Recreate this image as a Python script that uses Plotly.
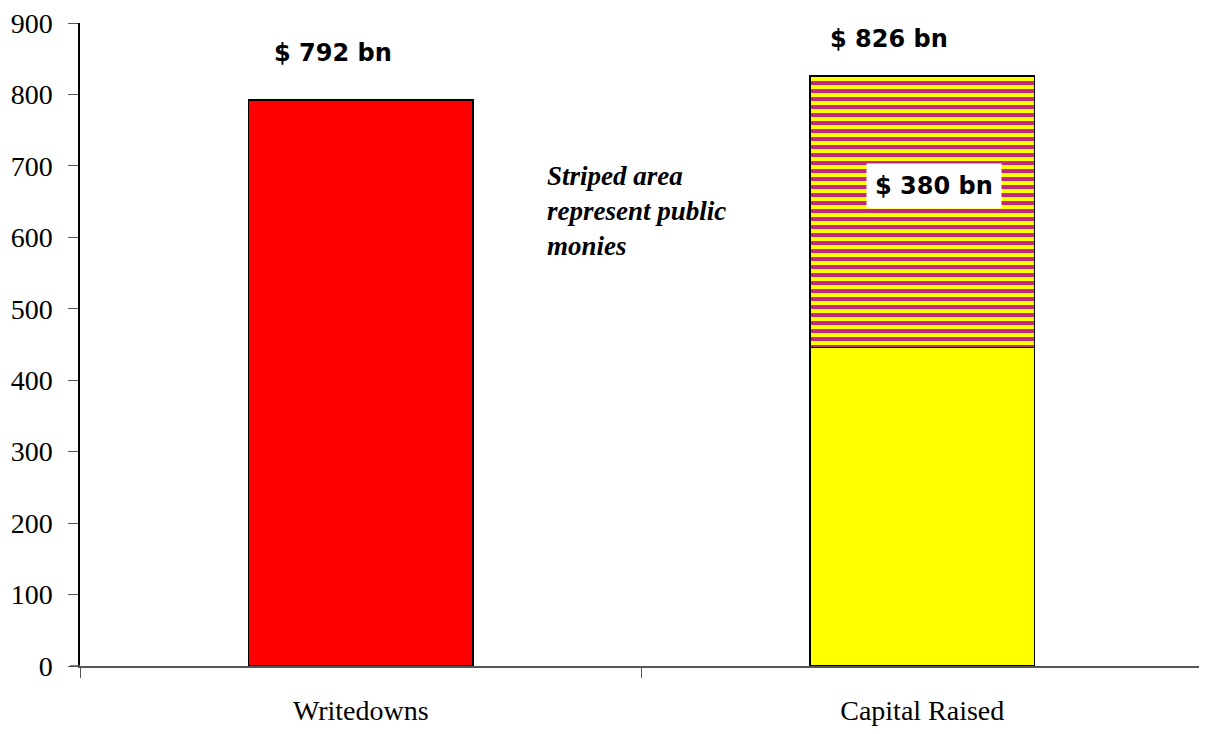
import plotly.graph_objects as go

categories = ["Writedowns", "Capital Raised"]
writedowns = [792, None]
private_capital = [None, 446]
public_capital = [None, 380]
tick_vals = [0, 100, 200, 300, 400, 500, 600, 700, 800, 900]

fig = go.Figure()
fig.add_bar(x=categories, y=writedowns, marker=dict(color="#FF0000", line=dict(color="black", width=1.5)), width=0.4)
fig.add_bar(x=categories, y=private_capital, marker=dict(color="#FFFF00", line=dict(color="black", width=1.5)), width=0.4)
fig.add_bar(x=categories, y=public_capital,
            marker=dict(color="#FFFF00", line=dict(color="black", width=1.5),
                        pattern=dict(shape="-", fgcolor="#C02A78", fgopacity=1, bgcolor="#FFFF00",
                                     fillmode="replace", size=8, solidity=0.5)),
            width=0.4)

lab_font = dict(family="DejaVu Sans", size=24, color="black")
fig.add_annotation(x=0.2253, y=858, xref="paper", yref="y", xanchor="center", text="<b>$ 792 bn</b>",
                   showarrow=False, font=lab_font)
fig.add_annotation(x=0.7204, y=878, xref="paper", yref="y", xanchor="center", text="<b>$ 826 bn</b>",
                   showarrow=False, font=lab_font)
fig.add_annotation(x=0.7605, y=672, xref="paper", yref="y", xanchor="center", text="<b>$ 380 bn</b>",
                   showarrow=False, font=lab_font, bgcolor="white", borderpad=8)
fig.add_annotation(x=0.414, y=637, xref="paper", yref="y", xanchor="left",
                   text="<b><i>Striped area<br>represent public<br>monies</i></b>", align="left",
                   showarrow=False, font=dict(family="Liberation Serif", size=27, color="black"))

# x-axis baseline extends left past the y axis, as in the original
fig.add_shape(type="line", xref="paper", yref="y", x0=-0.009, x1=0, y0=0, y1=0,
              line=dict(color="#555555", width=1.5))

fig.update_layout(
    barmode="stack", showlegend=False, width=1195, height=718,
    margin=dict(l=72, r=0, t=14, b=56),
    plot_bgcolor="white", paper_bgcolor="white",
    font=dict(family="Liberation Serif", size=28, color="black"),
    xaxis=dict(showline=True, linecolor="#555555", linewidth=1.5, ticks="outside", tickson="boundaries",
               ticklen=10, tickcolor="#555555", showgrid=False, ticklabelstandoff=19),
    yaxis=dict(range=[0, 900], tickvals=tick_vals, showline=True, linecolor="black", linewidth=1.5,
               ticks="outside", ticklen=10, tickcolor="#555555", showgrid=False, zeroline=False,
               ticklabelstandoff=10, ticklabeloverflow="allow"),
)
fig.write_html("out.html")
